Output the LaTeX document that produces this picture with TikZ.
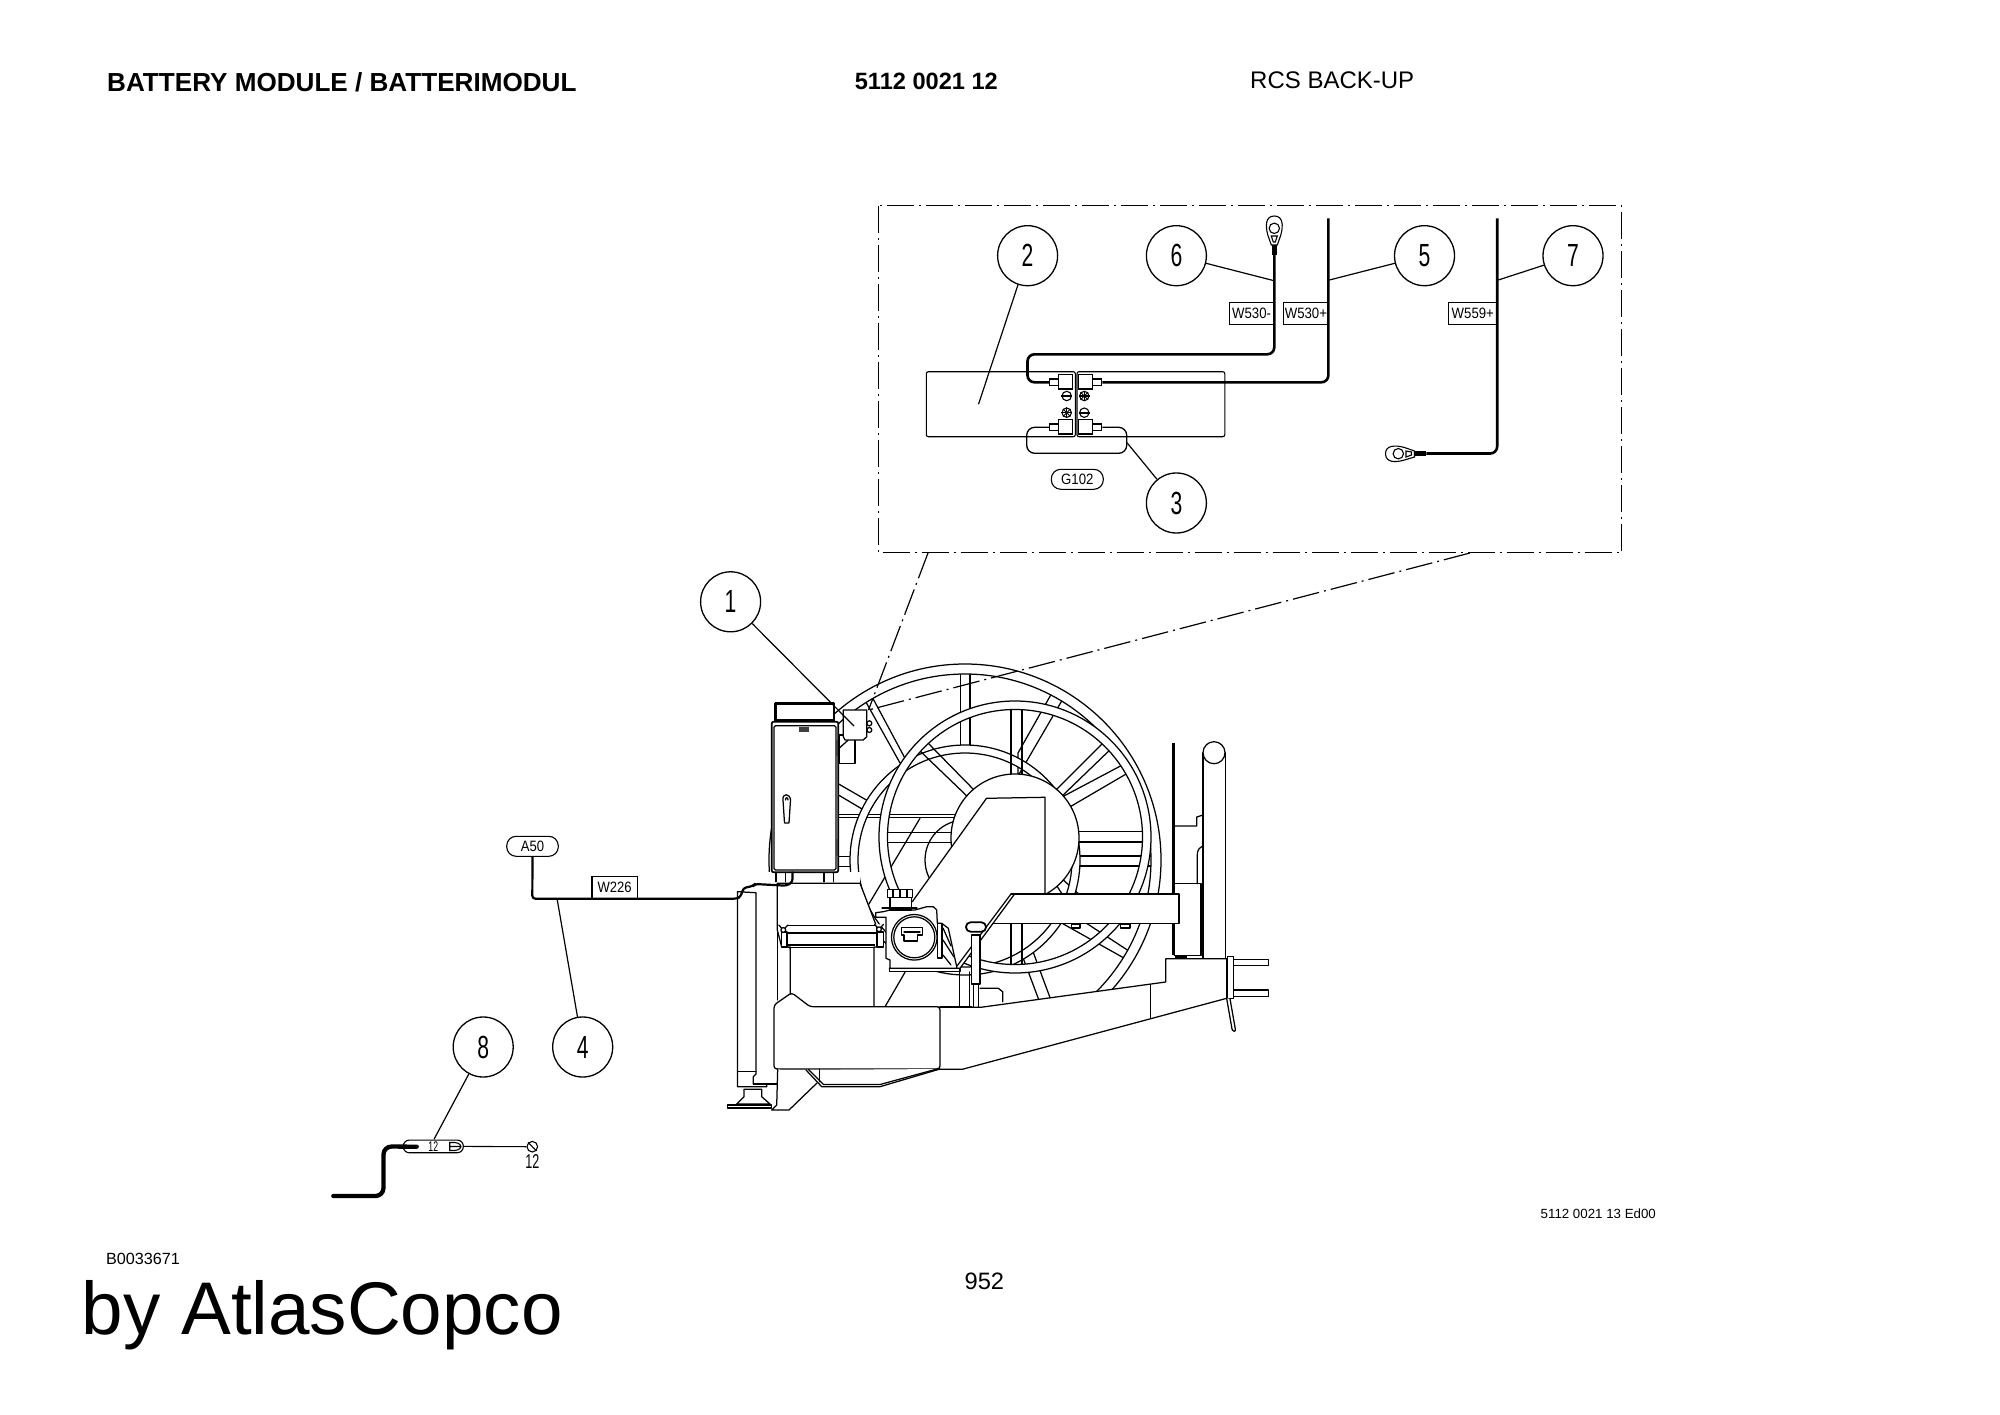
\documentclass[tikz,border=0pt]{standalone}
\usepackage{fontspec}
\setmainfont{Liberation Sans}
\newcommand{\nar}[2]{\scalebox{#1}[1]{#2}}
\newcommand{\fsz}[1]{\fontsize{#1}{#1}\selectfont}
\tikzset{
  thin line/.style={line width=1.25pt,line join=round,line cap=round},
  wf/.style={thin line,draw=black,fill=white},
  balloon/.style={circle,draw,line width=1.3pt,minimum size=60pt,inner sep=0pt,font=\fsz{32}},
  wlabel/.style={draw,line width=1.1pt,inner sep=0pt,minimum height=22pt,font=\fsz{15}},
  pill/.style={draw,line width=1.1pt,rounded corners=9.5pt,inner sep=0pt,minimum height=20pt,font=\fsz{15}},
  leader/.style={line width=1.2pt},
  cable/.style={line width=2.6pt,rounded corners=7pt},
  dashdot/.style={line width=1.2pt,dash pattern=on 27pt off 5pt on 2pt off 5pt},
  txt/.style={inner sep=0pt,anchor=west},
  conn/.style={draw,fill=white,line width=1.1pt,inner sep=0pt,minimum width=14.4pt,minimum height=14.6pt},
  nose/.style={draw,fill=white,line width=1.1pt,inner sep=0pt,minimum width=9pt,minimum height=6.7pt},
  ring/.style={thin line,draw=black,fill=white,even odd rule},
}
\begin{document}
\begin{tikzpicture}[x=1pt,y=-1pt]
\useasboundingbox (0,0) rectangle (2000,1415);
\fill[white] (0,0) rectangle (2000,1415);

% ---------- page texts
\node[txt] (title) at (107,82.5) {\fsz{26.1}\bfseries BATTERY MODULE / BATTERIMODUL};
\node[txt] (partno) at (854.6,81) {\fsz{23.6}\bfseries 5112 0021 12};
\node[txt] (rcs) at (1250,80) {\fsz{24}RCS BACK-UP};
\node[txt] (bnum) at (105.9,1258.8) {\fsz{16.2}B0033671};
\node[txt] (by) at (81.6,1315.5) {\fsz{74.6}by AtlasCopco};
\node[inner sep=0pt] (page) at (984.4,1281.8) {\fsz{23.7}952};
\node[txt] (ed) at (1540.5,1214.2) {\fsz{13.3}5112 0021 13 Ed00};

% ---------- machine: back wheel
\coordinate (bc) at (965,860);
\draw[thin line] (bc) circle[radius=40pt];
\draw[thin line] (920,818.3) -- (868.3,905);
\draw[thin line] (905,972.3) -- (885,1006.7);
\begin{scope}[wf]
\draw (960.4,668) -- (970,668) -- (970,750) -- (960.4,750) -- cycle;
\draw (862,695) -- (900,763) -- (907,762) -- (870,693) -- cycle;
\draw (1053,691) -- (1064,697) -- (1018,776) -- (1018,753) -- cycle;
\draw (1108,738) -- (1055,791) -- (1060,798) -- (1115,745) -- cycle;
\draw (1128,762) -- (1062,797) -- (1068,808) -- (1133,770) -- cycle;
\draw (1070,856) -- (1158,856) -- (1158,866) -- (1070,866) -- cycle;
\draw (1056.7,885.7) -- (1064,897) -- (1082,897) -- (1063.3,880) -- cycle;
\draw (1058,921) -- (1131,962) -- (1135,955) -- (1083,921) -- cycle;
\draw (1022,955) -- (1040,1003) -- (1052,1003) -- (1032,949) -- cycle;
\draw (830,779) -- (873.3,804) -- (868.3,812.7) -- (830,790) -- cycle;
\draw (830,814.3) -- (960,814.3) -- (960,817.7) -- (830,817.7) -- cycle;
\draw (830,856.7) -- (855,856.7) -- (855,866.7) -- (830,866.7) -- cycle;
\end{scope}
\path[ring] (bc) circle[radius=115pt] (bc) circle[radius=107pt];
\path[ring] (bc) circle[radius=196pt] (bc) circle[radius=186pt];

% ---------- machine: front wheel
\coordinate (fc) at (1015,837);
\begin{scope}[wf]
\draw (918,749) -- (970,799) -- (976,792) -- (926,741) -- cycle;
\draw (1011,705) -- (1022,705) -- (1022,780) -- (1011,780) -- cycle;
\draw (1011,920) -- (1022,920) -- (1022,969) -- (1011,969) -- cycle;
\draw (881,832.3) -- (955,832.3) -- (955,842.3) -- (881,842.3) -- cycle;
\draw (1070,831.7) -- (1147,831.7) -- (1147,842) -- (1070,842) -- cycle;
\end{scope}
\path[ring] (fc) circle[radius=136pt] (fc) circle[radius=127.5pt];

% ---------- hub, hull
\coordinate (hub) at (1015,838);
\draw[wf] (hub) circle[radius=64pt];
\fill[white] (912.3,901.7) -- (986.5,798.3) -- (1045,797.3) -- (1045,894) -- (1013.3,894) -- (960,968.3) -- (935,968.3) -- cycle;
\draw[thin line] (912.3,901.7) -- (986.5,798.3) -- (1045,797.3) -- (1045,893.3);
\draw[wf] (1071.7,924) rectangle (1080,928);
\draw[wf] (1120.7,924) rectangle (1130,928);

% ---------- machine: right post and frame
\draw[wf] (1203,752.7) -- (1203,960) -- (1225.3,960) -- (1225.3,752.7);
\draw[wf] (1214,752.7) circle[radius=11pt];
\draw[line width=2.4pt] (1173.3,742.7) -- (1173.3,955);
\draw[thin line] (1174,826) -- (1196.7,826) -- (1196.7,817) -- (1203,815);
\draw[thin line] (1203,846) .. controls (1199,848) and (1197.3,850) .. (1197.3,855) -- (1197.3,883.7);
\draw[thin line] (1174.3,883.7) -- (1201,883.7) -- (1201,955.3) -- (1174.3,955.3);
\draw[line width=2pt] (1175,957) -- (1187,957);
% arm
\fill[white] (1014,894) -- (1179,894) -- (1179,923.7) -- (992,923.7) -- cycle;
\draw[thin line] (1011,894) -- (1179,894) -- (1179,923.7) -- (993,923.7);
\draw[thin line] (1014.6,894) -- (960,968.3) -- (889.3,968.3);
\draw[thin line] (1011,894) -- (957,966);
% chassis
\draw[wf] (980.8,1007.3) -- (1165.7,982) -- (1165.7,958.7) -- (1226.7,958.7) -- (1226.7,998.3) -- (962.3,1069.3) -- (935,1069.3) -- (935,1007.3) -- cycle;
\draw[thin line] (1150.7,985) -- (1150.7,1018.3);
\draw[wf] (1233.3,959.3) rectangle (1268.7,965.3);
\draw[wf] (1233.3,990) rectangle (1268.7,996.7);
\draw[wf] (1227.3,956.3) rectangle (1233.3,998.7);
\draw[wf] (1226.7,998.7) -- (1232,1029) .. controls (1233,1032) and (1236,1032) .. (1235.3,1029) -- (1230,998.7);

% ---------- machine: lever and stand
\draw[wf] (980,988.3) -- (998.3,988.3) -- (1002.7,991.7) -- (1002.7,1001.7);
\draw[thin line] (959.3,968.3) -- (959.3,1006.7) (969.3,972) -- (969.3,1006.7);
\draw[thin line] (973.3,984) -- (973.3,1006.7) (978.3,984) -- (978.3,1006.7);
\draw[wf] (971.7,935) rectangle (980,984);
\draw[wf,line width=1.8pt,rounded corners=4.5pt] (966,922.3) rectangle (986,931.7);

% ---------- machine: left leg
\fill[white] (756,885) rectangle (777.3,1076.7);
\draw[wf] (737.5,891.7) -- (737.5,1086.7) -- (766.7,1086.7) -- (766.7,1084) -- (753.3,1084) -- (753.3,1076.7) -- (756,1074) -- (756,892.7) -- cycle;
\draw[thin line] (737.5,1071.7) -- (756,1071.7);
\draw[thin line] (777.3,885) -- (777.3,1000) (777.3,1069) -- (777.3,1084) -- (753.3,1084);
\draw[wf] (744,1089.3) -- (744,1096.7) -- (736.7,1104) -- (770,1104) -- (761.7,1096.7) -- (761.7,1089.3) -- cycle;
\draw[wf] (727.3,1105) rectangle (771.7,1108);

% ---------- machine: base box with clamps
\fill[white] (765,872) rectangle (860,884);
\draw[wf] (777.3,883.3) -- (860,883.3) -- (876.7,926.7) -- (876.7,947) -- (874,947) -- (874,1006.7) -- (790.3,1006.7) -- (790.3,947) -- (781.7,947) -- (777.3,930) -- cycle;
\draw[thin line] (780,925.7) -- (876.7,925.7);
\draw[line width=2pt] (783,932.7) -- (877,932.7);
\draw[line width=1.6pt] (788,945) -- (875,945);
\draw[line width=1.2pt] (788,947.3) -- (875,947.3);
\draw[wf] (781.7,932) rectangle (787,947);
\draw[wf] (877,932) rectangle (883.3,947);
\foreach \nx/\ny in {783.3/930,879/929.3}{
  \draw[wf] (\nx-4.5,\ny-5) -- (\nx,\ny) -- (\nx+4.5,\ny-5);
  \draw[wf] (\nx,\ny) circle[radius=2.4pt];
}

% ---------- machine: main beam (in front of the base box)
\draw[wf,rounded corners=3pt] (791.7,992.7) -- (810,1006.7) -- (940,1006.7) -- (940,1069) -- (774,1069) -- (774,1005) -- cycle;
\draw[thin line] (940,1006.7) -- (971.7,1006.7);
\draw[wf] (806,1070) -- (821.7,1086.7) -- (880,1086.7) -- (940,1069);
\draw[thin line] (808.5,1069.5) -- (823.5,1084.5) -- (880,1084.5) -- (937,1069);
\draw[thin line] (819.3,1069) -- (819.3,1081.7);
\draw[wf] (777.7,1069) -- (776.7,1105) -- (771.7,1110) -- (789,1110) -- (817.3,1082.7);

% ---------- machine: gearbox
\draw[wf] (875.7,912.7) -- (883.3,911.7) -- (890,910) -- (915,910) -- (926.7,906.7) -- (933.3,906.7) -- (936.7,910) -- (937.3,923.3) -- (941.7,923.3) -- (948.3,928.3) -- (956.7,966.7) -- (956.7,968.3) -- (890,968.3) -- (890,960) -- (886,958.3) -- (886,917.3) -- (875.7,917.3) -- cycle;
\draw[wf] (889.3,968.3) rectangle (960,971.7);
\draw[wf] (890,897) rectangle (911.7,910);
\draw[wf] (887.3,889.5) rectangle (912.7,897.3);
\draw[thin line] (893,889.5) -- (893,897.3) (900,889.5) -- (900,897.3) (907,889.5) -- (907,897.3);
\draw[thin line] (882,908) -- (917,908);
\draw[thin line] (943,928) -- (951,946) (943,940) -- (954,957) (943,955) -- (951,965);
\draw[wf] (937.3,923.3) rectangle (942,958);
\draw[wf] (914.3,937.3) circle[radius=22.8pt];
\draw[wf] (914.3,937.3) circle[radius=20.5pt];
\draw[wf] (901.7,927.7) -- (922.7,927.7) -- (922.7,935) -- (917.3,935) -- (917.3,941) -- (904,941) -- (904,935) -- (901.7,935) -- cycle;
\draw[thin line] (904,932) -- (920,932);

% ---------- machine: cabinet and module
\draw[wf] (855,735) -- (855,763.3) -- (839,763.3) -- (839,735) -- cycle;
\draw[thin line] (839,748.3) -- (848.3,740);
\draw[thin line] (776,872.3) -- (776,881.7) (785.7,872.3) -- (785.7,881.7) (824,872.3) -- (824,881.7) (833.3,872.3) -- (833.3,881.7);
\draw[wf,line width=1.7pt,rounded corners=2pt] (771.7,721.7) rectangle (838.3,872.3);
\draw[wf,rounded corners=1.5pt] (774,725.7) rectangle (836,870);
\draw[wf,line width=2.6pt] (775.7,703.3) rectangle (834,720.7);
\draw[line width=2.2pt] (775.7,720.9) -- (834,720.9);
\fill[black!75] (799.3,726.7) rectangle (809.3,732);
\fill[black!75] (836,740) rectangle (838.3,756);
\fill[black!75] (836,839.3) rectangle (838.3,855.7);
\draw[wf] (783,800) .. controls (782,793) and (790,793) .. (790.5,800) -- (789,823) -- (784.5,823) -- cycle;
\draw[thin line,fill=white] (785.5,800) .. controls (785.5,797) and (788,797) .. (788,800);
\draw[wf] (843.3,710) -- (866.7,710) -- (866.7,736.7) -- (863.3,740) -- (845,740) -- (843.3,736.7) -- cycle;
\draw[thin line] (869.3,723.3) circle[radius=2.5pt] (869.3,730) circle[radius=2.5pt];

% ---------- cable W226
\node[pill,minimum width=51.6pt] (a50) at (532.5,846.3) {\nar{0.87}{A50}};
\node[wlabel,minimum width=45.3pt] (w226) at (614.6,887.4) {\nar{0.87}{W226}};
\coordinate (w226end) at (792.5,871.7);
\draw[line width=2.2pt,line join=round,rounded corners=3pt] (a50.south) -- (532.3,898.7) -- (736.7,898.7) -- (740.7,896.7) -- (743.3,888) -- (753,886) -- (755,884) -- (786.7,885.7) -- (792.5,882) -- (w226end);

% ---------- inset frame
\coordinate (ilt) at (878.5,205.7);
\coordinate (irb) at (1621.6,552.7);
\draw[dashdot] (ilt) rectangle (irb);
\coordinate (iz1) at (928,553);
\coordinate (iz2) at (1470,553);
\coordinate (izt) at (868.5,710);
\draw[dashdot] (iz1) -- (izt);
\draw[dashdot] (iz2) -- (izt);

% ---------- inset: batteries
\draw[line width=1.1pt,rounded corners=2pt] (926.3,371.7) rectangle (1075.3,436.7);
\draw[line width=1.1pt,rounded corners=2pt] (1077,371.7) rectangle (1224.8,436.7);
\node[conn] (ctl) at (1065.5,381.7) {};
\node[conn] (ctr) at (1085.5,381.7) {};
\node[conn] (cbl) at (1065.5,426.7) {};
\node[conn] (cbr) at (1085.5,426.7) {};
\node[nose] (ntl) at (1053.8,382.3) {};
\node[nose] (ntr) at (1097.2,382.3) {};
\node[nose] (nbl) at (1053.8,427.3) {};
\node[nose] (nbr) at (1097.2,427.3) {};
\draw[line width=1.3pt,rounded corners=8pt] (nbl.west) -- (1026.7,427.3) -- (1026.7,453.3) -- (1126.7,453.3) -- (1126.7,427.3) -- (nbr.east);
\foreach \px/\py/\nm in {1066.7/396/m1,1084.3/412.7/m2}{
  \node[circle,draw,line width=1.1pt,minimum size=9.4pt,inner sep=0pt] (\nm) at (\px,\py) {};
  \draw[line width=1.6pt] (\nm.west) -- (\nm.east);
}
\foreach \px/\py/\nm in {1084.3/396/p1,1066.7/412.7/p2}{
  \node[circle,draw,line width=1.1pt,minimum size=9.4pt,inner sep=0pt] (\nm) at (\px,\py) {};
  \draw[line width=1.3pt] (\nm.west) -- (\nm.east) (\nm.north) -- (\nm.south);
  \draw[line width=0.9pt] (\nm.north west) -- (\nm.south east) (\nm.north east) -- (\nm.south west);
}
\node[pill,minimum width=52pt] (g102) at (1077.3,479.3) {\nar{0.88}{G102}};

% ---------- inset: cables and lugs
\coordinate (lugt) at (1274.3,255);
\draw[line width=1.1pt,fill=white] (1274.3,216) .. controls (1265.3,216) and (1265.3,226) .. (1267.8,235) -- (1271.3,245) -- (1277.3,245) -- (1280.8,235) .. controls (1283.3,226) and (1283.3,216) .. (1274.3,216) -- cycle;
\draw[line width=1.1pt] (1274.3,228.3) circle[radius=5.2pt];
\draw[line width=1.1pt] (1271.3,236) -- (1277.3,236) -- (1275.3,242) -- (1273.3,242) -- cycle;
\fill (1272.1,245) rectangle (1276.5,255);
\draw[cable] (lugt) -- (1274.3,354.3) -- (1027.5,354.3) -- (1027.5,382.3) -- (ntl.west);
\coordinate (w530end) at (1328.4,218.3);
\draw[cable] (w530end) -- (1328.4,382.3) -- (ntr.east);
\coordinate (w559end) at (1497.2,218.3);
\coordinate (lugr) at (1426.3,453.5);
\draw[line width=1.1pt,fill=white] (1385.5,453.7) .. controls (1385.5,445) and (1395.5,445) .. (1404.5,447.5) -- (1414.5,451) -- (1414.5,457) -- (1404.5,460) .. controls (1395.5,462.7) and (1385.5,462.7) .. (1385.5,453.7) -- cycle;
\draw[line width=1.1pt] (1398.3,453.7) circle[radius=5.2pt];
\draw[line width=1.1pt] (1406,451) -- (1406,457) -- (1411.5,455) -- (1411.5,452) -- cycle;
\fill (1414.5,451.4) rectangle (1426.3,455.8);
\draw[cable] (w559end) -- (1497.2,453.5) -- (lugr);
\node[wlabel,minimum width=43.4pt] (w530m) at (1251.6,313.3) {\nar{0.88}{W530-}};
\node[wlabel,minimum width=44.9pt] (w530p) at (1305.9,313.3) {\nar{0.88}{W530+}};
\node[wlabel,minimum width=47.9pt] (w559p) at (1472.8,313.3) {\nar{0.88}{W559+}};

% ---------- balloons and leaders
\node[balloon] (b1) at (730.6,601.8) {\nar{0.66}{1}};
\node[balloon] (b2) at (1027.6,255.7) {\nar{0.66}{2}};
\node[balloon] (b3) at (1176.4,503) {\nar{0.66}{3}};
\node[balloon] (b4) at (582.7,1047) {\nar{0.66}{4}};
\node[balloon] (b5) at (1424.5,255.7) {\nar{0.66}{5}};
\node[balloon] (b6) at (1176.4,255.7) {\nar{0.66}{6}};
\node[balloon] (b7) at (1573,255.7) {\nar{0.66}{7}};
\node[balloon] (b8) at (483.2,1047) {\nar{0.66}{8}};
\coordinate (t1) at (854,726);
\coordinate (t2) at (978.5,404.3);
\coordinate (t3) at (1127,442.7);
\coordinate (t4) at (557.3,900);
\coordinate (t5) at (1329.4,280);
\coordinate (t6) at (1274,280.7);
\coordinate (t7) at (1498.3,280);
\coordinate (t8) at (434,1139.3);
\foreach \k in {1,...,8}{\draw[leader] (b\k) -- (t\k);}

% ---------- item 8
\node[draw,line width=1.1pt,rounded corners=6pt,minimum width=60pt,minimum height=12.7pt,inner sep=0pt,font=\fsz{14}] (clip) at (433.3,1146.4) {\nar{0.62}{12}};
\coordinate (c8s) at (333.3,1196);
\coordinate (c8e) at (416.7,1146.7);
\draw[line width=4.3pt,rounded corners=8pt,line cap=round] (c8s) -- (383.5,1196) -- (383.5,1146.5) -- (c8e);
\draw[line width=1.1pt] (449.7,1142.5) -- (455,1142.5) .. controls (460,1143) and (461,1146) .. (461,1146.5) .. controls (461,1147) and (460,1150) .. (455,1150.5) -- (449.7,1150.5) -- cycle (449.7,1146.5) -- (461,1146.5);
\node[circle,draw,line width=1.1pt,minimum size=10.6pt,inner sep=0pt] (scr) at (532.3,1146.7) {};
\draw[line width=1.1pt] (scr.north west) -- (scr.south east);
\draw[line width=1.1pt] (clip.east) -- (scr.west);
\node[inner sep=0pt,font=\fsz{20}] (lab12) at (532.3,1161.7) {\nar{0.63}{12}};
\end{tikzpicture}
\end{document}
